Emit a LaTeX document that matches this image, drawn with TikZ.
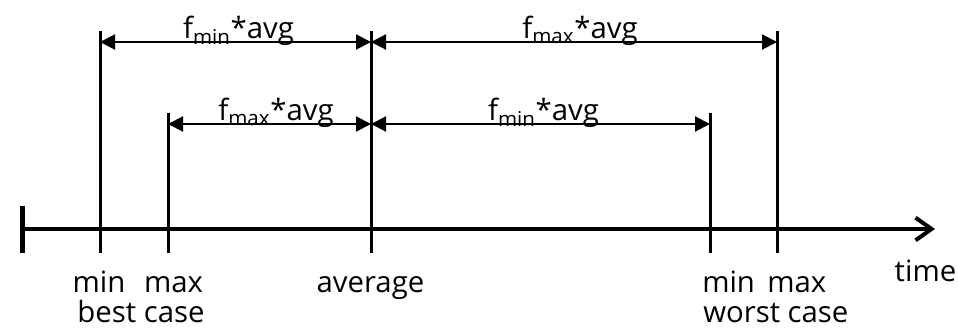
\documentclass[tikz,border=0pt]{standalone}
\usepackage{fontspec}
\setmainfont{Open Sans}
\usetikzlibrary{arrows.meta}
\begin{document}
\begin{tikzpicture}[x=0.75pt,y=-0.75pt,
  vline/.style={line width=2.25pt},
  dimline/.style={line width=1.6pt,
    {Triangle[length=11.25pt,width=11.25pt]}-{Triangle[length=11.25pt,width=11.25pt]}},
  axisline/.style={line width=3pt,-{Straight Barb[length=12pt,width=17pt,line width=3pt]}},
  lbl/.style={font=\fontsize{22}{26}\selectfont, inner sep=0pt, anchor=base},
  lblw/.style={lbl, anchor=base west}]
\useasboundingbox (0,0) rectangle (958,328);
% axis
\coordinate (ax0) at (22,229);
\coordinate (ax1) at (935,229);
\coordinate (tk0) at (22,206);
\coordinate (tk1) at (22,253);
\draw[axisline] (ax0) -- (ax1);
\draw[line width=3.75pt] (tk0) -- (tk1);
% vertical lines
\coordinate (v1t) at (100,31);  \coordinate (v1b) at (100,253);
\coordinate (v2t) at (168,113); \coordinate (v2b) at (168,253);
\coordinate (v3t) at (371,31);  \coordinate (v3b) at (371,253);
\coordinate (v4t) at (710,113); \coordinate (v4b) at (710,253);
\coordinate (v5t) at (777,31);  \coordinate (v5b) at (777,253);
\foreach \i in {1,...,5} \draw[vline] (v\i t) -- (v\i b);
% dimension lines
\coordinate (d1a) at (100,42); \coordinate (d1b) at (371,42); \coordinate (d1c) at (777,42);
\coordinate (d2a) at (168,124); \coordinate (d2b) at (371,124); \coordinate (d2c) at (710,124);
\draw[dimline] (d1a) -- (d1b);
\draw[dimline] (d1b) -- (d1c);
\draw[dimline] (d2a) -- (d2b);
\draw[dimline] (d2b) -- (d2c);
% dimension labels
\node[lbl] (l1) at (238.5,39) {f\textsubscript{min}*avg};
\node[lbl] (l2) at (580,39) {f\textsubscript{max}*avg};
\node[lbl] (l3) at (276,121) {f\textsubscript{max}*avg};
\node[lbl] (l4) at (543.5,121) {f\textsubscript{min}*avg};
% axis labels
\node[lbl] (bmin) at (99,292) {min};
\node[lbl] (bmax) at (173.5,292) {max};
\node[lbl] (bc) at (141,322) {best case};
\node[lbl] (avg) at (370.5,292) {average};
\node[lblw] (wmin) at (702,292) {min};
\node[lblw] (wmax) at (767,292) {max};
\node[lblw] (wc) at (703,322) {worst case};
\node[lbl] (time) at (925.5,281) {time};
\end{tikzpicture}
\end{document}
